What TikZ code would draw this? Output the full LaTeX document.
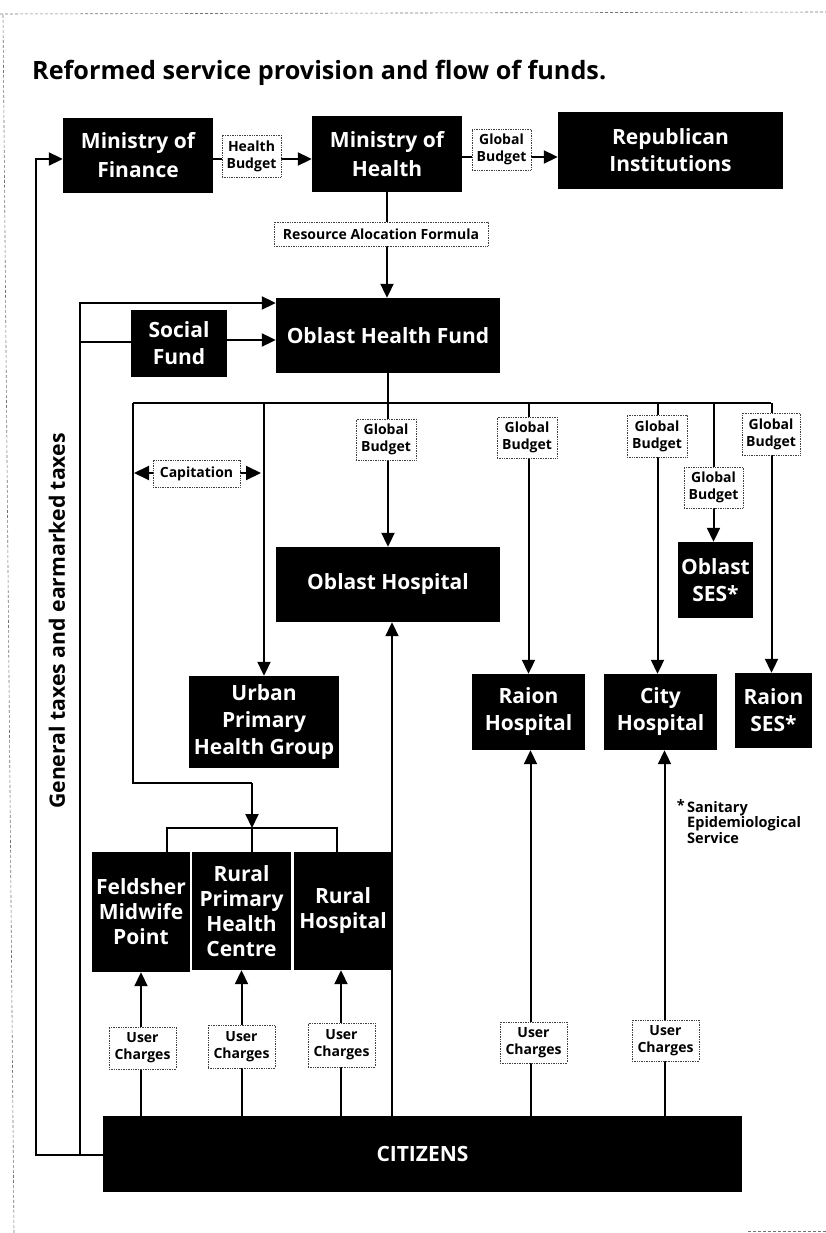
\documentclass[tikz,border=0pt]{standalone}
\usepackage{fontspec}
\setmainfont{Open Sans}
\usetikzlibrary{arrows.meta}
\begin{document}
\begin{tikzpicture}[x=1pt,y=-1pt,
 blk/.style={fill=black,text=white,font=\bfseries\fontsize{21}{27}\selectfont,align=center,inner sep=0pt},
 lbl/.style={fill=white,draw=black!75,densely dotted,line width=0.7pt,font=\bfseries\fontsize{14}{17}\selectfont,align=center,inner sep=0pt},
 ln/.style={line width=2pt},
 arr/.style={line width=2pt,-{Triangle[length=14pt,width=13pt]}},
 dblarr/.style={line width=2pt,{Triangle[length=15pt,width=14pt]}-{Triangle[length=15pt,width=14pt]}},
 edge/.style={black!55,line width=0.6pt,dash pattern=on 3pt off 2pt},
]
\useasboundingbox (0,0) rectangle (826,1233);
% page edges of the scan
\draw[edge] (3,15) -- (14,1233);
\draw[edge] (0,14) -- (826,12);
\draw[edge] (748,1231) -- (826,1231);

% title
\node[anchor=base west,inner sep=0pt,font=\bfseries\fontsize{25.2}{29}\selectfont] (title) at (32,80) {Reformed service provision and flow of funds.};

% black boxes
\node[blk,minimum width=150pt,minimum height=75pt,font=\bfseries\fontsize{21}{29}\selectfont] (mof) at (138,155.5) {Ministry of\\Finance};
\node[blk,minimum width=150pt,minimum height=76pt,font=\bfseries\fontsize{21}{29}\selectfont] (moh) at (387,154) {Ministry of\\Health};
\node[blk,minimum width=225pt,minimum height=77pt] (rep) at (670.5,150.5) {Republican\\Institutions};
\node[blk,minimum width=224pt,minimum height=75pt] (ohf) at (388,335.5) {Oblast Health Fund};
\node[blk,minimum width=96pt,minimum height=67pt] (sf) at (179,343.5) {Social\\Fund};
\node[blk,minimum width=224pt,minimum height=75pt] (oh) at (388,584.5) {Oblast Hospital};
\node[blk,minimum width=75pt,minimum height=76pt] (oses) at (715.5,580) {Oblast\\SES*};
\node[blk,minimum width=150pt,minimum height=92pt] (uphg) at (264,722) {Urban\\Primary\\Health Group};
\node[blk,minimum width=113pt,minimum height=76pt] (rhosp) at (528.5,712) {Raion\\Hospital};
\node[blk,minimum width=113pt,minimum height=76pt] (chosp) at (660.5,712) {City\\Hospital};
\node[blk,minimum width=77pt,minimum height=75pt] (rses) at (773.5,710.5) {Raion\\SES*};
\node[blk,minimum width=98pt,minimum height=120pt,font=\bfseries\fontsize{21}{25}\selectfont] (fmp) at (141,912) {Feldsher\\Midwife\\Point};
\node[blk,minimum width=99pt,minimum height=118pt,font=\bfseries\fontsize{21}{25}\selectfont] (rphc) at (241.5,911) {Rural\\Primary\\Health\\Centre};
\node[blk,minimum width=98pt,minimum height=118pt,font=\bfseries\fontsize{21}{25}\selectfont] (rh) at (343,911) {Rural\\Hospital};
\node[blk,minimum width=639pt,minimum height=76pt] (cit) at (422.5,1154) {CITIZENS};

% rotated side label
\node[rotate=90,inner sep=0pt,font=\bfseries\fontsize{21.2}{25}\selectfont] (taxes) at (57,621) {General taxes and earmarked taxes};

% footnote
\node[anchor=north west,inner sep=0pt,align=left,font=\bfseries\fontsize{14.5}{15.5}\selectfont] (fn) at (687,799) {\leavevmode\llap{\raisebox{2pt}{*}\,}Sanitary\\Epidemiological\\Service};

% helper coordinates
\coordinate (tb) at (36,1155);
\coordinate (tt) at (36,159);
\coordinate (ib) at (80,1155);
\coordinate (it) at (80,303);
\coordinate (is) at (80,342);
\coordinate (busL) at (133,403);
\coordinate (busR) at (771,403);
\coordinate (rl) at (133,783);
\coordinate (rk) at (252,783);
\coordinate (brk) at (252,828);
\coordinate (b1) at (167,828);
\coordinate (b3) at (337,828);

% taxes
\draw[arr] (cit.west |- tb) -- (tb) -- (tt) -- (tt -| mof.west);
\draw[arr] (ib) -- (it) -- (it -| ohf.west);
\draw[ln] (is) -- (is -| sf.west);
\draw[arr] (sf.east |- 0,340) -- (ohf.west |- 0,340);

% top row
\draw[arr] (mof.east |- tt) -- (moh.west |- tt);
\draw[arr] (moh.east |- 0,157) -- (rep.west |- 0,157);
\draw[arr] (moh.south) -- (moh.south |- ohf.north);

% bus
\draw[ln] (ohf.south) -- (ohf.south |- busL);
\draw[ln] (busL) -- (busR);
\draw[ln] (busL) -- (rl) -- (rk);
\draw[arr] (rk) -- (brk);
\draw[ln] (b1 |- fmp.north) -- (b1) -- (b3) -- (b3 |- rh.north);
\draw[ln] (brk) -- (brk |- rphc.north);
\draw[arr] (uphg.north |- busL) -- (uphg.north);
\draw[arr] (oh.north |- busL) -- (oh.north);
\draw[arr] (rhosp.north |- busL) -- (rhosp.north);
\draw[arr] ([xshift=-3pt]chosp.north |- busL) -- ([xshift=-3pt]chosp.north);
\draw[arr] ([xshift=-2pt]oses.north |- busL) -- ([xshift=-2pt]oses.north);
\draw[arr] ([xshift=-2pt]rses.north |- busL) -- ([xshift=-2pt]rses.north);
\draw[dblarr] (134,473) -- (261,473);

% user charges
\draw[arr] (fmp.south |- cit.north) -- (fmp.south);
\draw[arr] (rphc.south |- cit.north) -- (rphc.south);
\draw[arr] ([xshift=-2pt]rh.south |- cit.north) -- ([xshift=-2pt]rh.south);
\draw[arr] ([xshift=4pt]oh.south |- cit.north) -- ([xshift=4pt]oh.south);
\draw[arr] ([xshift=2pt]rhosp.south |- cit.north) -- ([xshift=2pt]rhosp.south);
\draw[arr] ([xshift=4pt]chosp.south |- cit.north) -- ([xshift=4pt]chosp.south);

% labels
\node[lbl,minimum width=59pt,minimum height=42pt] (l1) at (251.5,156) {Health\\Budget};
\node[lbl,minimum width=59pt,minimum height=41pt] (l2) at (501.5,149.5) {Global\\Budget};
\node[lbl,minimum width=214pt,minimum height=24pt] (l3) at (381,234) {Resource Alocation Formula};
\node[lbl,minimum width=87pt,minimum height=27pt] (l4) at (196.5,473.5) {Capitation};
\node[lbl,minimum width=60pt,minimum height=41pt] (g1) at (386,439.5) {Global\\Budget};
\node[lbl,minimum width=60pt,minimum height=41pt] (g2) at (527,437.5) {Global\\Budget};
\node[lbl,minimum width=60pt,minimum height=42pt] (g3) at (657,436) {Global\\Budget};
\node[lbl,minimum width=59pt,minimum height=41pt] (g4) at (713.5,487.5) {Global\\Budget};
\node[lbl,minimum width=58pt,minimum height=42pt] (g5) at (771,434) {Global\\Budget};
\node[lbl,minimum width=67pt,minimum height=42pt] (u1) at (142.5,1048) {User\\Charges};
\node[lbl,minimum width=67pt,minimum height=43pt] (u2) at (241.5,1046.5) {User\\Charges};
\node[lbl,minimum width=67pt,minimum height=44pt] (u3) at (341.5,1045) {User\\Charges};
\node[lbl,minimum width=67pt,minimum height=41pt] (u4) at (533.5,1042.5) {User\\Charges};
\node[lbl,minimum width=67pt,minimum height=41pt] (u5) at (665.5,1040.5) {User\\Charges};
\end{tikzpicture}
\end{document}
